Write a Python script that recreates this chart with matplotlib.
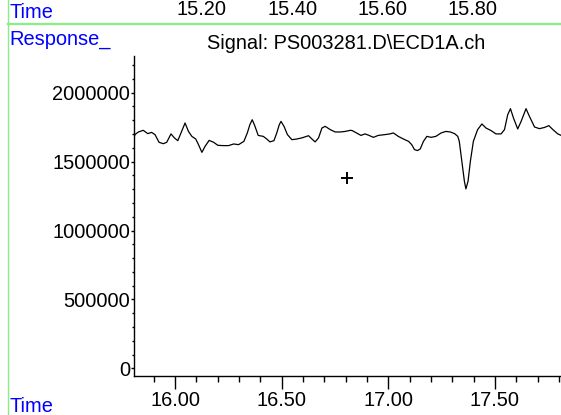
import matplotlib
matplotlib.use("Agg")
import matplotlib.pyplot as plt
from matplotlib.ticker import MultipleLocator

# chromatogram trace
time = [15.806, 15.812, 15.828, 15.851, 15.872, 15.890, 15.906, 15.925, 15.945, 15.961,
        15.981, 15.997, 16.013, 16.028, 16.047, 16.063, 16.079, 16.097, 16.110, 16.126,
        16.141, 16.160, 16.181, 16.201, 16.228, 16.251, 16.275, 16.298, 16.323, 16.339,
        16.351, 16.362, 16.375, 16.390, 16.414, 16.430, 16.445, 16.464, 16.477, 16.489,
        16.497, 16.511, 16.527, 16.548, 16.571, 16.595, 16.626, 16.642, 16.657, 16.673,
        16.689, 16.704, 16.728, 16.751, 16.775, 16.798, 16.822, 16.831, 16.851, 16.872,
        16.891, 16.910, 16.930, 16.953, 16.985, 17.008, 17.024, 17.047, 17.071, 17.095,
        17.110, 17.123, 17.137, 17.150, 17.165, 17.181, 17.201, 17.223, 17.248, 17.270,
        17.291, 17.311, 17.326, 17.333, 17.345, 17.357, 17.364, 17.374, 17.385, 17.399,
        17.419, 17.439, 17.458, 17.482, 17.505, 17.529, 17.545, 17.560, 17.573, 17.587,
        17.607, 17.623, 17.646, 17.662, 17.686, 17.709, 17.733, 17.753, 17.772, 17.795,
        17.811]
response = [1664000, 1696000, 1715000, 1727000, 1703000, 1712000, 1696000, 1640000, 1630000, 1640000,
            1701000, 1672000, 1652000, 1708000, 1780000, 1719000, 1683000, 1664000, 1623000, 1567000,
            1611000, 1654000, 1640000, 1618000, 1616000, 1616000, 1628000, 1623000, 1647000, 1708000,
            1768000, 1804000, 1756000, 1690000, 1683000, 1664000, 1643000, 1652000, 1708000, 1768000,
            1792000, 1756000, 1696000, 1659000, 1664000, 1672000, 1688000, 1664000, 1643000, 1672000,
            1744000, 1756000, 1732000, 1715000, 1715000, 1719000, 1727000, 1725000, 1708000, 1690000,
            1701000, 1690000, 1676000, 1690000, 1696000, 1701000, 1708000, 1683000, 1664000, 1647000,
            1623000, 1587000, 1580000, 1592000, 1647000, 1683000, 1676000, 1683000, 1708000, 1719000,
            1715000, 1703000, 1683000, 1647000, 1502000, 1357000, 1302000, 1357000, 1502000, 1647000,
            1732000, 1773000, 1744000, 1725000, 1701000, 1701000, 1732000, 1840000, 1884000, 1817000,
            1737000, 1792000, 1884000, 1828000, 1751000, 1739000, 1748000, 1761000, 1732000, 1701000,
            1690000]

cursor_t = 16.806
cursor_v = 1382000

top_labels = ["15.20", "15.40", "15.60", "15.80"]
title = "Signal: PS003281.D\\ECD1A.ch"

W, H = 561, 415
plt.rcParams['font.family'] = ['Liberation Sans', 'DejaVu Sans']
fs = 14.4

fig = plt.figure(figsize=(W / 100, H / 100), dpi=100)
ax = fig.add_axes([134.3 / W, 1 - 375.7 / H, 1 - 134.3 / W, (375.7 - 56.5) / H])

ax.plot(time, response, color="black", linewidth=0.9)
ax.plot([cursor_t], [cursor_v], marker="+", color="black", markersize=8, mew=1.4)

ax.set_xlim(15.809, 17.810)
ax.set_ylim(-53700, 2262700)

ax.spines['top'].set_visible(False)
ax.spines['right'].set_visible(False)
ax.spines['left'].set_linewidth(1.0)
ax.spines['bottom'].set_linewidth(1.0)

ax.xaxis.set_major_locator(MultipleLocator(0.5))
ax.xaxis.set_minor_locator(MultipleLocator(0.1))
ax.yaxis.set_major_locator(MultipleLocator(500000))
ax.yaxis.set_minor_locator(MultipleLocator(100000))
ax.xaxis.set_major_formatter(plt.FuncFormatter(lambda v, p: "%.2f" % v))
ax.yaxis.set_major_formatter(plt.FuncFormatter(lambda v, p: "%d" % v))

ax.tick_params(axis='x', which='major', length=9, width=1.0, pad=2, labelsize=fs)
ax.tick_params(axis='x', which='minor', length=4.5, width=1.0)
ax.tick_params(axis='y', which='major', length=2.5, width=1.0, pad=0.5, labelsize=fs)
ax.tick_params(axis='y', which='minor', length=1.5, width=1.0)

# frame lines of the report page
green = "#88ee88"
fig.add_artist(plt.Line2D([7.5 / W, 7.5 / W], [0, 1], color=green, linewidth=1.0))
fig.add_artist(plt.Line2D([7.5 / W, 1], [1 - 24 / H, 1 - 24 / H], color=green, linewidth=1.6))

fig.text(9.3 / W, 1 - 18.3 / H, "Time", color="blue", fontsize=fs, va="baseline", ha="left")
for i, lab in enumerate(top_labels):
    fig.text((202 + i * 90.3) / W, 1 - 14.8 / H, lab, color="black", fontsize=fs,
             va="baseline", ha="center")
fig.text(9.3 / W, 1 - 44.3 / H, "Response_", color="blue", fontsize=fs, va="baseline", ha="left")
fig.text(346 / W, 1 - 49.3 / H, title, color="black", fontsize=fs, va="baseline", ha="center")
fig.text(9.3 / W, 1 - 412.3 / H, "Time", color="blue", fontsize=fs, va="baseline", ha="left")

fig.savefig("out.png", dpi=100)
